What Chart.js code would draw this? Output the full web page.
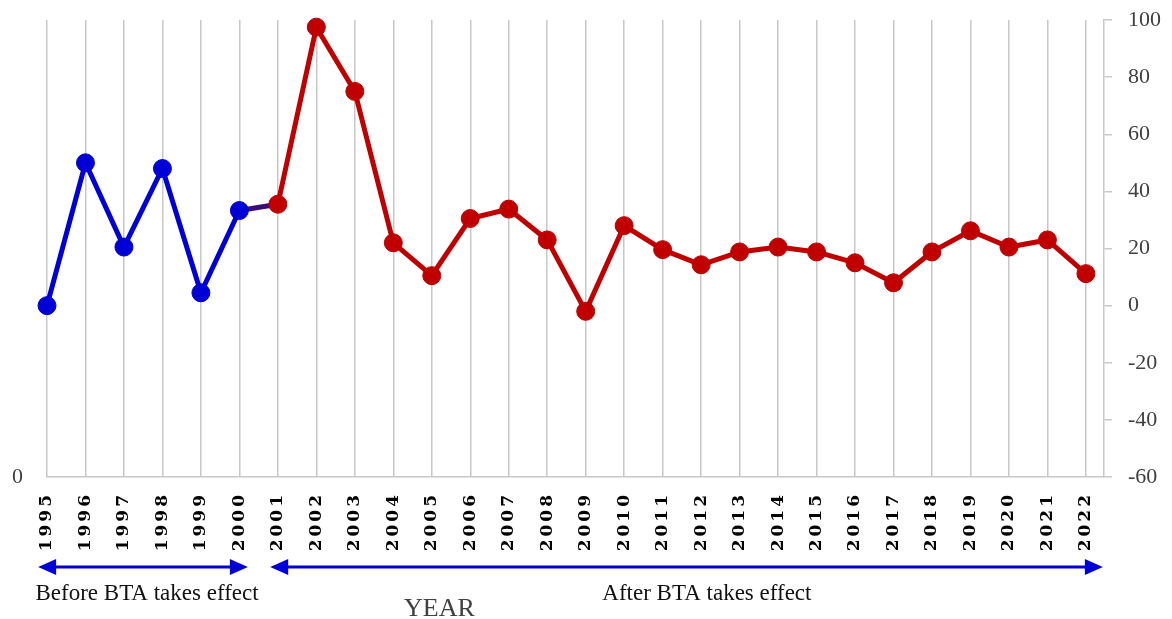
<!DOCTYPE html>
<html>
<head>
<meta charset="utf-8">
<script src="https://cdn.jsdelivr.net/npm/chart.js@4.4.1/dist/chart.umd.min.js"></script>
<style>
  html, body { margin: 0; padding: 0; background: #fff; }
  #wrap { width: 1172px; height: 619px; }
</style>
</head>
<body>
<div id="wrap"><canvas id="chart"></canvas></div>
<script>
const years = [1995, 1996, 1997, 1998, 1999, 2000, 2001, 2002, 2003, 2004, 2005, 2006, 2007, 2008,
               2009, 2010, 2011, 2012, 2013, 2014, 2015, 2016, 2017, 2018, 2019, 2020, 2021, 2022];
// 1995-2000
const beforeValues = [0, 50, 20.5, 48, 4.5, 33.3];
// 2001-2022
const afterValues = [35.5, 97.5, 75, 22, 10.5, 30.5, 33.8, 23, -2, 28, 19.6, 14.3, 18.8, 20.5,
                     18.8, 15, 8, 18.8, 26.2, 20.5, 23, 11.2];
const yTicks = [-60, -40, -20, 0, 20, 40, 60, 80, 100];

const periods = [
  { label: 'Before BTA takes effect', from: 1994.77, to: 2000.22, textAt: 1997.6 },
  { label: 'After BTA takes effect', from: 2000.8, to: 2022.44, textAt: 2012.15 }
];
const axisTitle = { label: 'YEAR', at: 2005.2 };

const BLUE = '#0000d6';
const RED = '#c00000';
const GRID = '#c8c8c8';

const beforeYears = years.slice(0, beforeValues.length);
const afterYears = years.slice(beforeValues.length);

const bluePoints = beforeYears.map((yr, i) => ({ x: yr, y: beforeValues[i] }));
bluePoints.push({ x: afterYears[0], y: afterValues[0] }); // link to 2001
const redPoints = afterYears.map((yr, i) => ({ x: yr, y: afterValues[i] }));

function arrowHead(ctx, x, y, dir) {
  ctx.beginPath();
  ctx.moveTo(x, y);
  ctx.lineTo(x - dir * 18, y - 8);
  ctx.lineTo(x - dir * 18, y + 8);
  ctx.closePath();
  ctx.fill();
}

// spaced x labels + arrows and captions under the axis
const bottomNotes = {
  id: 'bottomNotes',
  beforeDraw(chart) { chart.ctx.letterSpacing = '3px'; },
  beforeDatasetsDraw(chart) { chart.ctx.letterSpacing = '0px'; },
  afterDraw(chart) {
    const { ctx, chartArea, scales: { x } } = chart;
    const yArrow = chartArea.bottom + 90;
    ctx.save();
    ctx.letterSpacing = '0px';
    ctx.strokeStyle = BLUE;
    ctx.fillStyle = BLUE;
    ctx.lineWidth = 3;
    periods.forEach(p => {
      const x1 = x.getPixelForValue(p.from);
      const x2 = x.getPixelForValue(p.to);
      ctx.beginPath();
      ctx.moveTo(x1 + 10, yArrow);
      ctx.lineTo(x2 - 10, yArrow);
      ctx.stroke();
      arrowHead(ctx, x1, yArrow, -1);
      arrowHead(ctx, x2, yArrow, 1);
    });
    ctx.fillStyle = '#111';
    ctx.font = '23px "Liberation Serif"';
    ctx.textAlign = 'center';
    ctx.textBaseline = 'alphabetic';
    periods.forEach(p => {
      ctx.fillText(p.label, x.getPixelForValue(p.textAt), chartArea.bottom + 123);
    });
    ctx.fillStyle = '#404040';
    ctx.font = '26px "Liberation Serif"';
    ctx.fillText(axisTitle.label, x.getPixelForValue(axisTitle.at), chartArea.bottom + 139);
    ctx.restore();
  }
};

new Chart(document.getElementById('chart'), {
  type: 'line',
  data: {
    datasets: [
      {
        data: redPoints,
        borderColor: RED,
        backgroundColor: RED,
        borderWidth: 5,
        pointRadius: 9,
        pointBorderWidth: 1,
        pointHoverRadius: 9,
        clip: false,
        order: 0
      },
      {
        data: bluePoints,
        borderColor: BLUE,
        backgroundColor: BLUE,
        borderWidth: 5,
        pointRadius: c => (c.dataIndex === bluePoints.length - 1 ? 0 : 9),
        pointBorderWidth: 1,
        segment: {
          borderColor: c => (c.p1DataIndex === bluePoints.length - 1 ? '#3a0c78' : BLUE)
        },
        clip: false,
        order: 1
      }
    ]
  },
  options: {
    responsive: true,
    maintainAspectRatio: false,
    animation: false,
    layout: { padding: { left: 12, right: 11, top: 20, bottom: 62 } },
    plugins: { legend: { display: false }, tooltip: { enabled: false } },
    scales: {
      x: {
        type: 'linear',
        min: years[0],
        max: 2022.47,
        afterFit: s => { s.height = 80; s.paddingLeft = 0; s.paddingRight = 0; },
        grid: { color: GRID, lineWidth: 1.5, drawTicks: false },
        border: { color: GRID, width: 1.5 },
        ticks: {
          stepSize: 1,
          includeBounds: false,
          autoSkip: false,
          minRotation: 90,
          maxRotation: 90,
          padding: 15,
          color: '#000',
          font: { family: '"DejaVu Serif"', size: 17, weight: 'bold' },
          callback: v => String(v)
        }
      },
      y: {
        position: 'right',
        min: yTicks[0],
        max: yTicks[yTicks.length - 1],
        afterBuildTicks: s => { s.ticks = yTicks.map(v => ({ value: v })); },
        afterFit: s => { s.width = 57; s.paddingTop = 0; s.paddingBottom = 0; },
        grid: { drawOnChartArea: false, color: GRID, lineWidth: 1.5, tickLength: 8 },
        border: { color: GRID, width: 1.5 },
        ticks: {
          z: 1,
          padding: 16,
          color: '#404040',
          font: { family: '"Liberation Serif"', size: 22 }
        }
      },
      y2: {
        position: 'left',
        min: 0,
        max: 10,
        afterFit: s => { s.width = 35; s.paddingTop = 0; s.paddingBottom = 0; },
        grid: { display: false, drawTicks: false },
        border: { display: false },
        ticks: {
          z: 1,
          stepSize: 10,
          padding: 24,
          color: '#404040',
          font: { family: '"Liberation Serif"', size: 22 },
          callback: v => (v === 0 ? '0' : '')
        }
      }
    }
  },
  plugins: [bottomNotes]
});
</script>
</body>
</html>
